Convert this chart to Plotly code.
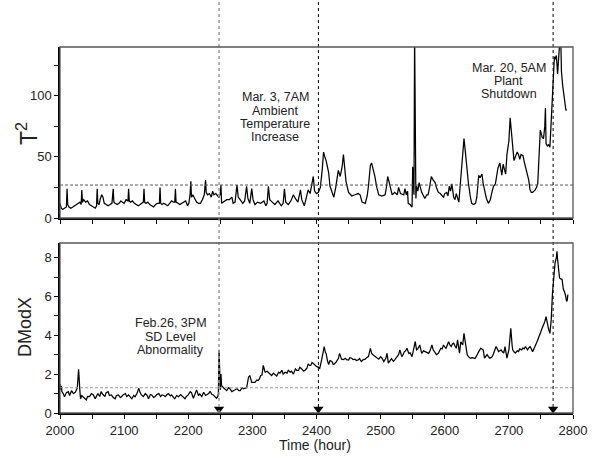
import plotly.graph_objects as go

# ---------------- data ----------------
t2_hours = [2000,2002,2004,2007,2010,2011,2012,2014,2017,2020,2023,2026,2029,2031,2033,2034,2035,2037,2040,2043,
            2046,2049,2052,2055,2057,2058,2059,2061,2063,2065,2067,2069,2072,2075,2078,2081,2083,2084,2086,2089,
            2092,2095,2097,2100,2103,2106,2107,2108,2110,2113,2116,2119,2122,2125,2128,2130,2131,2132,2134,2137,
            2140,2143,2146,2149,2152,2155,2156,2157,2159,2162,2165,2168,2171,2174,2177,2179,2180,2181,2184,2187,
            2190,2193,2196,2199,2201,2203,2204,2205,2207,2210,2213,2216,2219,2222,2225,2227,2228,2230,2233,2236,
            2238,2240,2243,2246,2248,2250,2251,2252,2255,2260,2264,2268,2270,2273,2276,2278,2281,2285,2288,2291,
            2293,2296,2299,2301,2304,2308,2313,2318,2321,2323,2325,2327,2331,2335,2340,2345,2348,2350,2352,2356,
            2360,2364,2367,2371,2375,2377,2381,2384,2387,2390,2393,2395,2397,2400,2403,2406,2409,2411,2413,2415,
            2417,2419,2421,2424,2427,2430,2434,2437,2440,2442,2444,2446,2450,2455,2460,2465,2468,2471,2476,2479,
            2481,2484,2486,2488,2491,2494,2497,2502,2507,2509,2511,2513,2515,2518,2522,2526,2528,2531,2536,2538,
            2540,2542,2543,2546,2549,2550,2552,2553,2555,2556,2558,2560,2562,2564,2567,2569,2572,2574,2577,2579,
            2582,2585,2587,2590,2593,2595,2598,2600,2603,2605,2607,2609,2611,2614,2616,2618,2620,2622,2624,2627,
            2630,2632,2635,2637,2640,2642,2645,2648,2650,2653,2655,2658,2660,2663,2665,2668,2671,2674,2676,2679,
            2681,2683,2686,2688,2689,2691,2693,2695,2697,2700,2702,2704,2705,2708,2710,2711,2713,2715,2717,2719,
            2722,2724,2725,2727,2728,2731,2733,2735,2737,2739,2741,2743,2745,2747,2749,2751,2752,2754,2756,2757,
            2758,2760,2762,2764,2766,2768,2769,2771,2772,2774,2776,2778,2780,2781,2782,2784,2786,2787,2789,2790]
t2_values = [12,8,7,8,9,24,11,9,8,9,10,11,12,13,11,23,13,15,13,14,
             11,10,9,8,10,24,12,11,16,19,17,12,11,10,11,12,24,13,12,11,
             12,14,13,12,15,14,24,14,13,14,12,11,10,11,12,13,24,13,12,13,
             11,10,9,11,12,12,25,12,11,12,11,10,12,14,13,13,24,13,12,11,
             12,13,14,10,12,20,30,17,19,16,13,12,12,15,19,31,21,19,20,17,
             22,19,20,18,17,20,27,12,13,15,15,17,12,13,27,17,15,12,14,26,
             16,12,24,15,11,13,12,14,10,12,26,15,13,11,14,10,12,24,13,11,
             14,19,16,13,23,15,10,16,23,20,28,34,22,20,21,25,40,54,50,47,
             42,37,26,22,17,25,39,34,42,52,40,30,21,18,19,20,19,13,12,18,
             26,43,45,41,34,25,19,18,19,25,34,30,26,19,21,19,25,20,19,24,
             19,22,12,11,9,42,19,150,16,26,22,29,25,21,18,16,19,19,27,34,
             31,29,25,21,20,19,17,20,21,18,26,22,28,17,15,20,17,13,26,47,
             65,55,36,28,17,12,11,12,17,35,33,36,28,20,16,12,15,22,26,28,
             37,41,45,38,35,44,40,36,52,63,82,70,60,47,50,51,54,52,48,52,
             51,46,44,40,38,31,23,21,21,22,23,25,28,50,72,68,66,65,75,90,
             61,59,60,58,80,100,113,132,130,133,118,137,150,145,120,108,98,93,88,89]

dmodx_hours = [2000,2001,2002,2003,2005,2007,2010,2013,2015,2018,2021,2024,2027,2029,2031,2032,2034,2036,2038,2041,
               2043,2046,2049,2052,2055,2057,2059,2062,2064,2067,2070,2072,2075,2077,2080,2083,2086,2088,2091,2094,
               2096,2099,2102,2104,2107,2110,2112,2115,2117,2120,2123,2125,2127,2130,2133,2136,2138,2141,2143,2146,
               2148,2151,2154,2157,2159,2162,2164,2167,2169,2172,2174,2177,2179,2182,2185,2188,2190,2193,2195,2197,
               2200,2203,2205,2208,2211,2213,2216,2218,2221,2224,2227,2229,2232,2234,2237,2239,2242,2244,2246,2247,
               2248,2249,2250,2251,2252,2255,2258,2260,2263,2265,2268,2270,2273,2276,2279,2281,2284,2286,2289,2291,
               2294,2296,2299,2302,2304,2307,2309,2311,2313,2315,2317,2319,2320,2323,2325,2328,2330,2333,2335,2338,
               2341,2343,2346,2348,2351,2354,2356,2359,2361,2364,2367,2369,2372,2374,2377,2380,2382,2385,2387,2389,
               2391,2393,2395,2398,2400,2403,2405,2408,2410,2412,2414,2415,2417,2419,2421,2424,2426,2427,2430,2432,
               2434,2436,2438,2439,2442,2445,2447,2450,2452,2455,2457,2460,2462,2465,2467,2470,2473,2476,2478,2481,
               2484,2486,2488,2491,2494,2497,2500,2502,2505,2508,2510,2512,2515,2517,2520,2522,2524,2526,2528,2530,
               2533,2535,2537,2539,2541,2544,2546,2549,2551,2554,2556,2558,2561,2563,2564,2567,2569,2572,2575,2577,
               2580,2582,2585,2587,2590,2592,2594,2596,2598,2600,2602,2604,2606,2608,2610,2612,2614,2616,2618,2620,
               2622,2623,2625,2628,2630,2633,2635,2637,2640,2643,2645,2647,2649,2651,2653,2656,2658,2660,2662,2664,
               2666,2668,2670,2672,2674,2676,2677,2680,2682,2684,2686,2688,2690,2692,2694,2696,2697,2700,2702,2703,
               2705,2706,2708,2710,2713,2715,2717,2720,2722,2724,2726,2729,2731,2733,2735,2737,2739,2741,2743,2745,
               2747,2749,2751,2753,2755,2756,2758,2760,2762,2764,2766,2768,2770,2771,2772,2774,2775,2776,2777,2779,
               2781,2783,2785,2786,2788,2790,2791,2792]
dmodx_values = [1.5,1.2,1.4,1.1,1.0,0.84,1.05,1.1,0.9,1.15,1.0,1.07,1.3,2.25,1.15,0.73,0.9,0.84,0.75,0.67,
                0.85,0.84,1.0,0.93,0.73,0.9,1.0,0.85,1.1,0.95,0.84,1.05,1.1,0.9,0.93,0.8,0.73,0.9,0.93,0.8,
                0.84,0.95,1.0,0.85,0.93,0.8,0.73,0.9,0.84,1.0,1.27,1.05,0.93,0.85,1.0,0.9,0.73,0.95,0.93,0.8,
                0.84,0.95,1.0,0.85,0.93,0.9,0.84,0.95,1.0,0.88,0.93,0.8,0.73,0.9,0.84,0.95,0.88,0.8,0.73,0.85,
                0.93,1.1,1.05,0.76,1.0,1.19,0.9,0.98,0.85,1.07,0.9,0.95,1.0,1.12,0.95,0.93,0.85,0.76,0.85,1.0,
                3.25,1.85,1.2,2.0,1.4,1.3,1.2,1.15,1.3,1.25,1.1,1.15,1.2,1.25,1.15,1.15,1.3,1.25,1.3,1.3,
                1.84,1.93,1.58,1.6,1.58,1.7,1.67,1.75,1.93,1.95,2.45,2.2,2.1,2.15,2.1,2.0,1.93,2.05,2.0,1.9,
                2.1,2.05,2.2,2.0,2.1,2.05,2.2,2.1,2.15,2.0,2.27,2.2,2.2,2.35,2.27,2.15,2.2,2.3,2.53,2.45,
                2.45,2.6,2.55,2.45,2.4,2.35,2.3,2.73,3.1,3.42,3.1,3.07,2.7,2.5,2.7,2.65,2.5,2.5,2.6,2.73,
                2.8,3.07,2.85,2.77,2.75,2.82,2.75,2.73,2.85,2.82,2.75,2.77,2.7,2.73,2.8,2.65,2.75,2.77,2.85,2.9,
                3.33,3.07,3.0,2.9,2.85,2.77,2.9,2.82,2.65,2.8,3.07,2.57,2.73,2.8,2.65,2.75,2.82,2.9,3.0,3.25,
                2.9,3.0,3.16,3.2,3.33,3.07,3.1,2.9,3.25,3.68,3.25,3.3,3.5,3.2,3.07,3.2,3.16,3.1,3.07,3.2,
                3.5,3.25,3.1,3.0,3.07,3.2,3.33,3.3,3.5,3.4,3.33,3.5,3.67,3.5,3.42,3.55,3.59,3.45,3.33,3.76,
                3.3,3.08,3.67,3.5,4.1,3.25,3.0,2.9,2.82,2.85,2.82,2.8,2.9,3.0,3.16,3.33,3.3,3.25,2.82,2.9,
                3.0,2.9,2.82,2.85,2.9,3.05,3.16,3.42,3.3,3.16,3.2,3.25,3.15,3.08,3.42,3.1,2.82,3.25,3.8,4.36,
                3.5,3.25,3.15,3.08,3.2,3.16,3.3,3.25,3.35,3.3,3.42,3.25,3.35,3.42,3.3,3.16,3.3,3.42,3.6,3.76,
                3.9,4.1,4.3,4.45,4.6,4.7,4.96,4.53,4.3,4.1,4.79,6.17,6.95,7.4,7.72,8.0,8.32,7.9,7.63,6.95,
                6.9,6.87,6.35,6.3,6.1,5.75,5.8,6.1]

t2_limit = 27
dmodx_limit = 1.3
x_range = [2000, 2800]
event_hours = [2248, 2403, 2769]

annot_top1 = ["Mar. 3, 7AM", "Ambient", "Temperature", "Increase"]
annot_top2 = ["Mar. 20, 5AM", "Plant", "Shutdown"]
annot_bot = ["Feb.26, 3PM", "SD Level", "Abnormality"]

# ---------------- layout geometry ----------------
W, H = 602, 465
L, R, T, B = 60, 29, 47, 52
plot_h = H - T - B  # 366
def py(ypx):
    return (H - B - ypx) / plot_h

top_dom = [py(218), 1.0]
bot_dom = [0.0, py(243)]

FONT = "Liberation Sans, Arial, sans-serif"
fig = go.Figure()

fig.add_trace(go.Scatter(x=t2_hours, y=t2_values, mode="lines",
                         line=dict(color="black", width=1.25), xaxis="x", yaxis="y", showlegend=False))
fig.add_trace(go.Scatter(x=x_range, y=[t2_limit, t2_limit], mode="lines",
                         line=dict(color="#555", width=1, dash="3px,2px"), xaxis="x", yaxis="y", showlegend=False))
fig.add_trace(go.Scatter(x=dmodx_hours, y=dmodx_values, mode="lines",
                         line=dict(color="black", width=1.25), xaxis="x2", yaxis="y2", showlegend=False))
fig.add_trace(go.Scatter(x=x_range, y=[dmodx_limit, dmodx_limit], mode="lines",
                         line=dict(color="#999", width=1.2, dash="3px,2px"), xaxis="x2", yaxis="y2", showlegend=False))
fig.add_trace(go.Scatter(x=event_hours, y=[0.2] * len(event_hours), mode="markers",
                         marker=dict(symbol="triangle-down", size=9, color="black"),
                         cliponaxis=False, xaxis="x2", yaxis="y2", showlegend=False))

shapes = []
for i, h in enumerate(event_hours):
    shapes.append(dict(type="line", xref="x2", yref="paper", x0=h, x1=h, y0=0, y1=py(0),
                       line=dict(color="#999" if i == 0 else "black", width=1.5 if i == 0 else 1, dash="dot"),
                       layer="above"))
for dom in (top_dom, bot_dom):
    shapes.append(dict(type="rect", xref="paper", yref="paper", x0=0, x1=1, y0=dom[0], y1=dom[1],
                       line=dict(color="#555", width=1.3), fillcolor="rgba(0,0,0,0)", layer="above"))

axis_common = dict(showgrid=False, zeroline=False, showline=True, linecolor="black",
                   ticks="outside", ticklen=4, tickcolor="black",
                   tickfont=dict(family=FONT, size=13, color="#222"))
minor_common = dict(ticks="outside", ticklen=4, tickcolor="black", showgrid=False)

fig.update_layout(
    width=W, height=H, margin=dict(l=L, r=R, t=T, b=B),
    paper_bgcolor="white", plot_bgcolor="white",
    xaxis=dict(domain=[0, 1], anchor="y", range=x_range, tick0=2000, dtick=50,
               showticklabels=False, linewidth=1.5, **axis_common),
    yaxis=dict(domain=top_dom, anchor="x", range=[0, 140], tick0=0, dtick=50,
               minor=dict(dtick=25, **minor_common), linewidth=1.5, **axis_common),
    xaxis2=dict(domain=[0, 1], anchor="y2", range=x_range, tick0=2000, dtick=100,
                minor=dict(dtick=50, **minor_common), linewidth=2, **axis_common),
    yaxis2=dict(domain=bot_dom, anchor="x2", range=[0, 8.75], tick0=0, dtick=2,
                minor=dict(dtick=1, **minor_common), linewidth=1.5, **axis_common),
    shapes=shapes,
    showlegend=False,
)

annots = []
def add_lines(lines, xh, ypxs):
    for txt, yp in zip(lines, ypxs):
        annots.append(dict(text=txt, xref="x", yref="paper", x=xh, y=py(yp), showarrow=False,
                           xanchor="center", yanchor="middle",
                           font=dict(family=FONT, size=12.5, color="#222")))

add_lines(annot_top1, 2336, [97, 111, 124, 137])
add_lines(annot_top2, 2700, [68, 81, 94])
add_lines(annot_bot, 2173, [323, 337, 350])

annots.append(dict(text="Time (hour)", xref="paper", yref="paper", x=(315 - L) / 513, y=py(445),
                   showarrow=False, xanchor="center", yanchor="middle",
                   font=dict(family=FONT, size=14, color="#222")))
annots.append(dict(text="T<sup>2</sup>", xref="paper", yref="paper", x=(27 - L) / 513, y=py(134),
                   showarrow=False, xanchor="center", yanchor="middle", textangle=-90,
                   font=dict(family=FONT, size=23, color="#222")))
annots.append(dict(text="DModX", xref="paper", yref="paper", x=(25 - L) / 513, y=py(327),
                   showarrow=False, xanchor="center", yanchor="middle", textangle=-90,
                   font=dict(family=FONT, size=18, color="#222")))
fig.update_layout(annotations=annots)

fig.write_html("out.html", config={"displayModeBar": False},
               post_script="document.body.style.margin='0';document.body.style.overflow='hidden';")
